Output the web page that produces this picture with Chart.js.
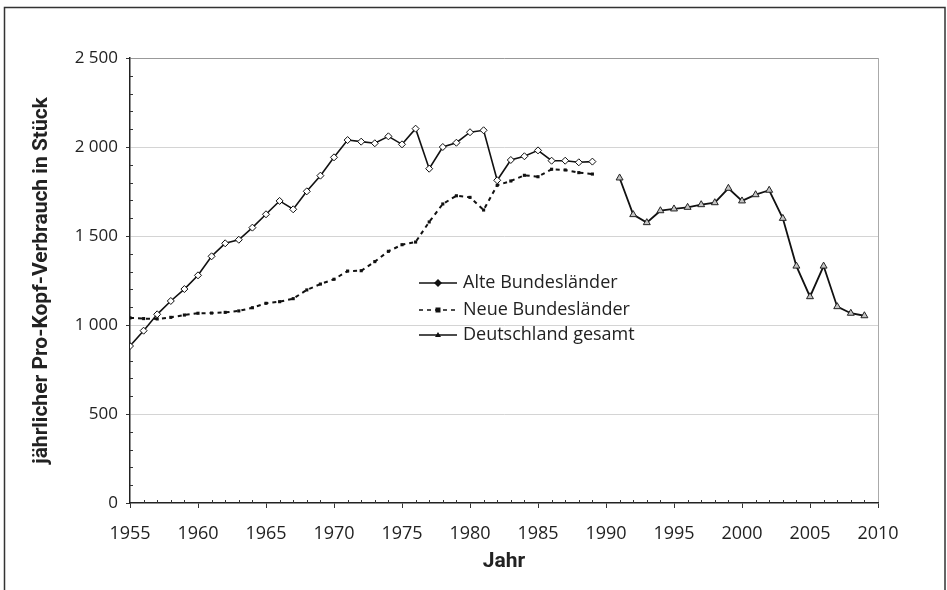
<!DOCTYPE html>
<html>
<head>
<meta charset="utf-8">
<script src="https://cdn.jsdelivr.net/npm/chart.js@4.4.1/dist/chart.umd.min.js"></script>
<style>
  body { margin: 0; background: #fff; }
  canvas { display: block; }
</style>
</head>
<body>
<canvas id="chart" width="947" height="590"></canvas>
<script>
const yearsAlt = [1955, 1956, 1957, 1958, 1959, 1960, 1961, 1962, 1963, 1964, 1965, 1966, 1967, 1968, 1969, 1970, 1971, 1972,
  1973, 1974, 1975, 1976, 1977, 1978, 1979, 1980, 1981, 1982, 1983, 1984, 1985, 1986, 1987, 1988, 1989];
const valuesAlt = [882, 968, 1060, 1135, 1202, 1279, 1386, 1459, 1479, 1547, 1622, 1697, 1650, 1751, 1839, 1942, 2039, 2030,
  2021, 2060, 2015, 2103, 1878, 2000, 2024, 2083, 2094, 1813, 1927, 1948, 1981, 1923, 1923, 1914, 1918];
const valuesNeu = [1040, 1036, 1034, 1043, 1056, 1066, 1067, 1071, 1079, 1097, 1122, 1131, 1148, 1197, 1230, 1257, 1303, 1305,
  1356, 1414, 1451, 1466, 1579, 1680, 1726, 1717, 1646, 1785, 1809, 1841, 1833, 1875, 1871, 1856, 1848];
const yearsGesamt = [1991, 1992, 1993, 1994, 1995, 1996, 1997, 1998, 1999, 2000, 2001, 2002, 2003, 2004, 2005, 2006, 2007, 2008, 2009];
const valuesGesamt = [1826, 1620, 1575, 1642, 1652, 1661, 1676, 1687, 1768, 1697, 1732, 1757, 1599, 1331, 1159, 1331, 1103, 1066, 1052];
const seriesNames = ["Alte Bundesländer", "Neue Bundesländer", "Deutschland gesamt"];

const toPoints = (xs, ys) => xs.map((x, i) => ({ x: x, y: ys[i] }));

// small ticks every year / every 100, plus the outer frame and the legend
const extras = {
  id: "extras",
  beforeDraw(chart) {
    const ctx = chart.ctx;
    ctx.save();
    ctx.fillStyle = "#fff";
    ctx.fillRect(0, 0, chart.width, chart.height);
    ctx.restore();
  },
  afterDraw(chart) {
    const ctx = chart.ctx;
    const xs = chart.scales.x, ys = chart.scales.y;
    const area = chart.chartArea;
    ctx.save();
    ctx.strokeStyle = "#333";
    ctx.lineWidth = 1;
    ctx.beginPath();
    for (let yr = 1956; yr < 2010; yr++) {
      if (yr % 5 === 0) continue;
      const px = Math.round(xs.getPixelForValue(yr)) + 0.5;
      ctx.moveTo(px, area.bottom);
      ctx.lineTo(px, area.bottom - 3);
    }
    for (let v = 100; v < 2500; v += 100) {
      if (v % 500 === 0) continue;
      const py = Math.round(ys.getPixelForValue(v)) + 0.5;
      ctx.moveTo(area.left, py);
      ctx.lineTo(area.left + 3, py);
    }
    ctx.stroke();

    // frame
    ctx.strokeStyle = "#333";
    ctx.lineWidth = 1.5;
    ctx.strokeRect(4.5, 7.5, 940.5, 600);

    // legend
    const lx = area.left + 289, tx = area.left + 333;
    const rows = [area.top + 225, area.top + 252, area.top + 277];
    ctx.font = "18px 'Open Sans'";
    ctx.textBaseline = "middle";
    rows.forEach((ry, i) => {
      const ds = chart.data.datasets[i];
      ctx.strokeStyle = "#111";
      ctx.lineWidth = 1.6;
      ctx.setLineDash(ds.borderDash || []);
      ctx.beginPath();
      ctx.moveTo(lx, ry);
      ctx.lineTo(lx + 38, ry);
      ctx.stroke();
      ctx.setLineDash([]);
      const cx = lx + 19;
      ctx.fillStyle = "#111";
      ctx.beginPath();
      if (i === 0) {
        ctx.moveTo(cx, ry - 4); ctx.lineTo(cx + 4, ry); ctx.lineTo(cx, ry + 4); ctx.lineTo(cx - 4, ry);
      } else if (i === 1) {
        ctx.rect(cx - 2.5, ry - 2.5, 5, 5);
      } else {
        ctx.moveTo(cx, ry - 3); ctx.lineTo(cx + 3, ry + 2); ctx.lineTo(cx - 3, ry + 2);
      }
      ctx.closePath();
      ctx.fill();
      ctx.fillStyle = "#222";
      ctx.fillText(seriesNames[i], tx, ry);
    });
    ctx.restore();
  }
};

new Chart(document.getElementById("chart"), {
  type: "line",
  data: {
    datasets: [
      {
        label: seriesNames[0],
        data: toPoints(yearsAlt, valuesAlt),
        borderColor: "#111",
        borderWidth: 1.6,
        pointStyle: "rectRot",
        pointRadius: 3.5,
        pointBackgroundColor: "#fff",
        pointBorderColor: "#111",
        pointBorderWidth: 1,
        tension: 0
      },
      {
        label: seriesNames[1],
        data: toPoints(yearsAlt, valuesNeu),
        borderColor: "#111",
        borderWidth: 2,
        borderDash: [4, 4],
        pointStyle: "rect",
        pointRadius: 2.2,
        pointBackgroundColor: "#111",
        pointBorderColor: "#111",
        pointBorderWidth: 0,
        tension: 0
      },
      {
        label: seriesNames[2],
        data: toPoints(yearsGesamt, valuesGesamt),
        borderColor: "#111",
        borderWidth: 1.8,
        pointStyle: "triangle",
        pointRadius: 4,
        pointBackgroundColor: "#c4c4c4",
        pointBorderColor: "#222",
        pointBorderWidth: 1,
        tension: 0
      }
    ]
  },
  options: {
    responsive: false,
    animation: false,
    layout: { padding: { left: 0, top: 58, right: 69, bottom: 0 } },
    plugins: {
      legend: { display: false },
      tooltip: { enabled: false }
    },
    scales: {
      x: {
        type: "linear",
        min: 1955,
        max: 2010,
        afterFit: (s) => { s.height = 87; },
        ticks: {
          stepSize: 5,
          padding: 15,
          color: "#222",
          font: { family: "'Open Sans'", size: 18 },
          callback: (v) => String(v)
        },
        grid: {
          drawOnChartArea: true,
          color: (c) => (c.tick && c.tick.value === 2010 ? "#aaa" : "rgba(0,0,0,0)"),
          tickColor: "#333",
          tickLength: 5
        },
        border: { color: "#222", width: 1.5 },
        title: {
          display: true,
          text: "Jahr",
          color: "#222",
          font: { family: "Roboto", size: 21, weight: "bold" },
          padding: { top: 0, bottom: 16 }
        }
      },
      y: {
        min: 0,
        max: 2500,
        afterFit: (s) => { s.width = 130; },
        ticks: {
          stepSize: 500,
          padding: 8,
          color: "#222",
          font: { family: "'Open Sans'", size: 17 },
          callback: (v) => (v >= 1000 ? String(v).replace(/(\d)(\d{3})$/, "$1 $2") : String(v))
        },
        grid: {
          color: (c) => (c.tick && c.tick.value === 0 ? "rgba(0,0,0,0)" : (c.tick && c.tick.value === 2500 ? "#999" : "#d4d4d4")),
          tickColor: "#333",
          tickLength: 4
        },
        border: { color: "#222", width: 1.5 },
        title: {
          display: true,
          text: "jährlicher Pro-Kopf-Verbrauch in Stück",
          color: "#222",
          font: { family: "Roboto", size: 21, weight: "bold" },
          padding: { top: 29, bottom: 0 }
        }
      }
    }
  },
  plugins: [extras]
});
</script>
</body>
</html>
